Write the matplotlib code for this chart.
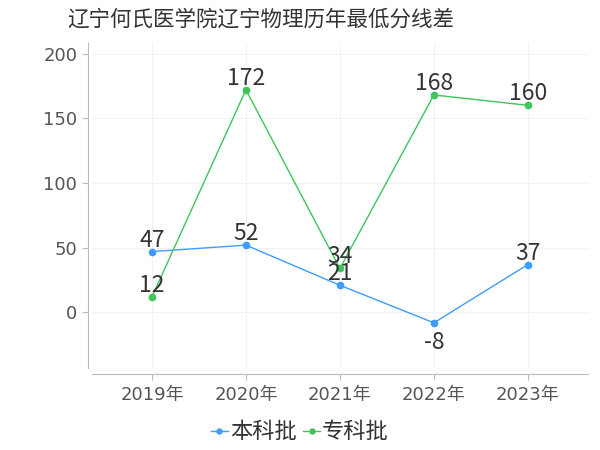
import matplotlib
matplotlib.use("Agg")
import matplotlib.pyplot as plt

plt.rcParams['font.family'] = ['Noto Sans CJK SC', 'DejaVu Sans']

title = "辽宁何氏医学院辽宁物理历年最低分线差"
years = ["2019年", "2020年", "2021年", "2022年", "2023年"]
series_names = ["本科批", "专科批"]
benke = [47, 52, 21, -8, 37]
zhuanke = [12, 172, 34, 168, 160]
colors = ["#3d9dff", "#3ec45a"]

fig = plt.figure(figsize=(6, 4.5), dpi=100)
ax = fig.add_axes([0.153, 0.182, 0.827, 0.722])

x = list(range(len(years)))
for vals, name, c in zip([benke, zhuanke], series_names, colors):
    ax.plot(x, vals, color=c, lw=1.0, marker='o', ms=4.5, label=name, zorder=3)
    for xi, v in zip(x, vals):
        if v < 0:
            ax.annotate(str(v), (xi, v), xytext=(0, -6), textcoords='offset points',
                        ha='center', va='top', fontsize=16.5, color='#333333', zorder=4)
        else:
            ax.annotate(str(v), (xi, v), xytext=(0, 0), textcoords='offset points',
                        ha='center', va='bottom', fontsize=16.5, color='#333333', zorder=4)

ax.set_xlim(-0.64, 4.64)
ax.set_ylim(-43, 208)
ax.set_yticks([0, 50, 100, 150, 200])
ax.set_xticks(x)
ax.set_xticklabels(years)
ax.grid(True, color='#f2f2f2', lw=0.8)
ax.set_axisbelow(True)
for s in ['top', 'right']:
    ax.spines[s].set_visible(False)
ax.spines['left'].set_position(('outward', 3))
ax.spines['bottom'].set_position(('outward', 4))
ax.spines['left'].set_color('#bbbbbb')
ax.spines['bottom'].set_color('#bbbbbb')
ax.tick_params(axis='both', colors='#bbbbbb', labelcolor='#555555', labelsize=13, length=4)
ax.tick_params(axis='x', pad=5)
for lab in ax.get_xticklabels() + ax.get_yticklabels():
    lab.set_family(['DejaVu Sans', 'Noto Sans CJK SC'])

fig.text(0.435, 0.956, title, ha='center', va='center', fontsize=15.5, color='#333333')

fig.legend(loc='center', bbox_to_anchor=(0.5, 0.04), ncol=2, frameon=False,
           fontsize=16, handlelength=0.75, handletextpad=0.1, columnspacing=0.3,
           labelcolor='#333333', markerscale=0.8)

fig.savefig("out.png", dpi=100)
